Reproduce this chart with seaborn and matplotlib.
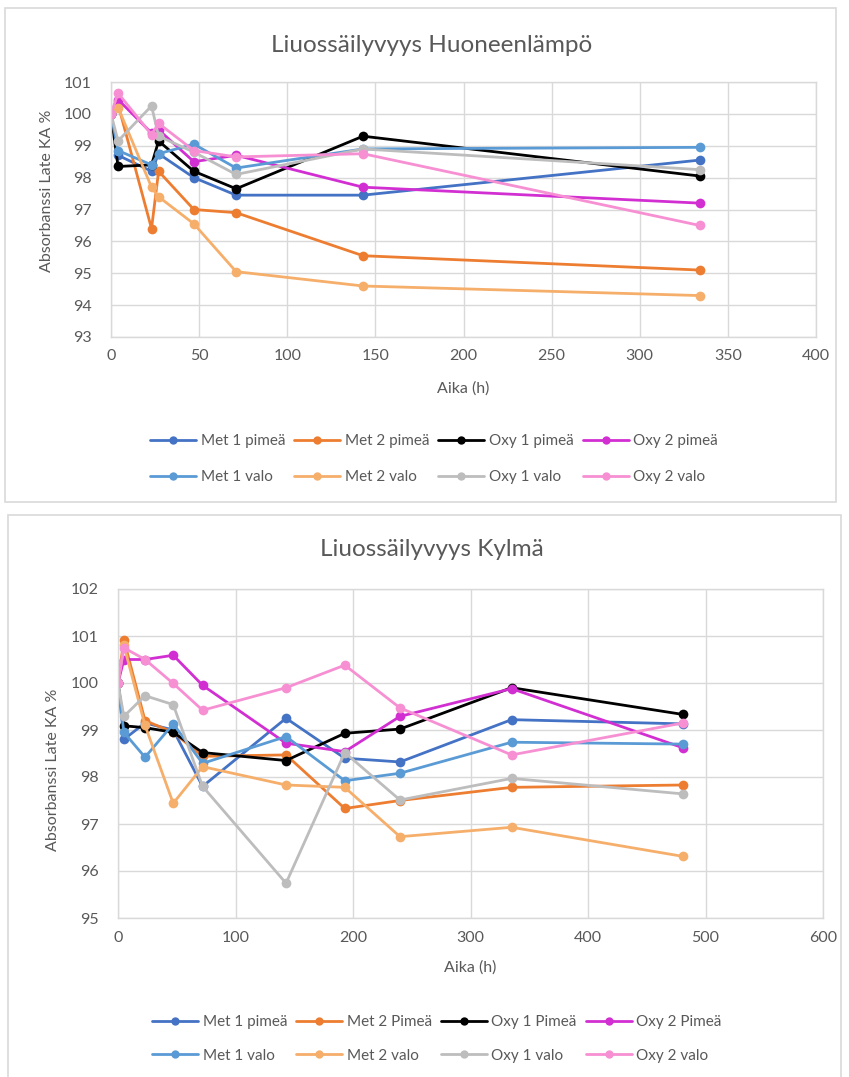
"""Liuossäilyvyys - kaksi kuvaajaa (huoneenlämpö ja kylmä)."""
import pandas as pd
import matplotlib.pyplot as plt
import matplotlib.patches as mpatches
from matplotlib.lines import Line2D
import seaborn as sns

# ── data: huoneenlämpö ───────────────────────────────────────────────────────
AIKA_HUONE = [0, 4, 23, 27, 47, 71, 143, 334]
SARJAT_HUONE = ["Met 1 pimeä", "Met 2 pimeä", "Oxy 1 pimeä", "Oxy 2 pimeä",
                "Met 1 valo", "Met 2 valo", "Oxy 1 valo", "Oxy 2 valo"]
huone_met1_pimea = [100, 98.7, 98.2, 98.75, 98.0, 97.45, 97.45, 98.55]
huone_met2_pimea = [100, 100.3, 96.4, 98.2, 97.0, 96.9, 95.55, 95.1]
huone_oxy1_pimea = [100, 98.35, 98.4, 99.15, 98.2, 97.65, 99.3, 98.05]
huone_oxy2_pimea = [100, 100.45, 99.4, 99.5, 98.5, 98.7, 97.7, 97.2]
huone_met1_valo = [100, 98.85, 98.4, 98.75, 99.05, 98.3, 98.9, 98.95]
huone_met2_valo = [100, 100.2, 97.7, 97.4, 96.55, 95.05, 94.6, 94.3]
huone_oxy1_valo = [100, 99.15, 100.25, 99.3, 98.8, 98.1, 98.9, 98.25]
huone_oxy2_valo = [100, 100.65, 99.35, 99.7, 98.85, 98.65, 98.75, 96.5]

# ── data: kylmä ──────────────────────────────────────────────────────────────
AIKA_KYLMA = [0, 5, 23, 47, 72, 143, 193, 240, 335, 481]
SARJAT_KYLMA = ["Met 1 pimeä", "Met 2 Pimeä", "Oxy 1 Pimeä", "Oxy 2 Pimeä",
                "Met 1 valo", "Met 2 valo", "Oxy 1 valo", "Oxy 2 valo"]
kylma_met1_pimea = [100, 98.8, 99.15, 99.0, 97.8, 99.25, 98.4, 98.32, 99.22, 99.13]
kylma_met2_pimea = [100, 100.92, 99.2, 98.95, 98.44, 98.47, 97.33, 97.5, 97.78, 97.83]
kylma_oxy1_pimea = [100, 99.09, 99.05, 98.95, 98.52, 98.35, 98.93, 99.02, 99.9, 99.33]
kylma_oxy2_pimea = [100, 100.5, 100.5, 100.59, 99.95, 98.72, 98.54, 99.29, 99.88, 98.62]
kylma_met1_valo = [100, 98.95, 98.42, 99.13, 98.29, 98.86, 97.92, 98.08, 98.74, 98.7]
kylma_met2_valo = [100, 100.8, 99.1, 97.44, 98.22, 97.83, 97.78, 96.73, 96.93, 96.31]
kylma_oxy1_valo = [100, 99.29, 99.73, 99.54, 97.8, 95.74, 98.52, 97.51, 97.97, 97.64]
kylma_oxy2_valo = [100, 100.75, 100.5, 99.99, 99.42, 99.9, 100.38, 99.47, 98.47, 99.15]

VARIT = ["#4472C4", "#ED7D31", "#000000", "#D22FD2",
         "#5B9BD5", "#F6AE6B", "#BDBDBD", "#F78FD3"]
HARMAA = "#595959"
GRID = "#D9D9D9"

W, H = 849, 1077

sns.set_theme(style="white")
plt.rcParams["font.family"] = ["Lato", "DejaVu Sans"]

fig = plt.figure(figsize=(W / 100, H / 100), dpi=100)


def fx(px):
    return px / W


def fy(py):
    return 1 - py / H


def pitka(aika, sarjat, arvot):
    rivit = []
    for nimi, vals in zip(sarjat, arvot):
        for t, v in zip(aika, vals):
            rivit.append({"Aika": t, "Arvo": v, "Sarja": nimi})
    return pd.DataFrame(rivit)


def kuvaaja(box, axpx, aika, sarjat, arvot, xmax, xstep, ylim, otsikko,
            otsikko_y, ylab_xy, xlab_y, leg_xy, ypad, legvali):
    # kehys
    x0, y0, x1, y1 = box
    fig.patches.append(mpatches.Rectangle((fx(x0), fy(y1)), fx(x1) - fx(x0), fy(y0) - fy(y1),
                                          transform=fig.transFigure, fill=False,
                                          edgecolor=GRID, linewidth=1.2))
    l, t, r, b = axpx
    ax = fig.add_axes([fx(l), fy(b), fx(r) - fx(l), fy(t) - fy(b)])
    df = pitka(aika, sarjat, arvot)
    sns.lineplot(data=df, x="Aika", y="Arvo", hue="Sarja", hue_order=sarjat,
                 palette=VARIT, marker="o", markersize=7, markeredgewidth=0,
                 linewidth=2, sort=False, legend=False, ax=ax)
    ax.set_xlim(0, xmax)
    ax.set_ylim(*ylim)
    ax.set_xticks(range(0, xmax + 1, xstep))
    ax.set_yticks(range(ylim[0], ylim[1] + 1))
    ax.grid(True, color=GRID, linewidth=1)
    ax.set_axisbelow(True)
    for s in ax.spines.values():
        s.set_color(GRID)
        s.set_linewidth(1)
    ax.tick_params(axis="both", length=0, labelsize=11.5, labelcolor=HARMAA)
    ax.tick_params(axis="x", pad=9)
    ax.tick_params(axis="y", pad=ypad)
    ax.set_xlabel("")
    ax.set_ylabel("")
    fig.text(fx(432), fy(otsikko_y), otsikko, ha="center", va="center",
             fontsize=17.5, color=HARMAA)
    fig.text(fx(ylab_xy[0]), fy(ylab_xy[1]), "Absorbanssi Late KA %", rotation=90,
             ha="center", va="center", fontsize=11.5, color=HARMAA)
    fig.text(fx((l + r) / 2), fy(xlab_y), "Aika (h)", ha="center", va="center",
             fontsize=11.5, color=HARMAA)

    # legenda: Excel-järjestys riveittäin, matplotlib täyttää sarakkeittain
    kahvat = [Line2D([], [], color=c, marker="o", markersize=6, markeredgewidth=0,
                     linewidth=2) for c in VARIT]
    jarj = [0, 4, 1, 5, 2, 6, 3, 7]
    leg = fig.legend([kahvat[i] for i in jarj], [sarjat[i] for i in jarj],
                     loc="center", bbox_to_anchor=(fx(leg_xy[0]), fy(leg_xy[1])),
                     ncol=4, frameon=False, fontsize=11, handlelength=3,
                     handletextpad=0.3, columnspacing=0.6, labelspacing=legvali)
    for txt in leg.get_texts():
        txt.set_color(HARMAA)
    return ax


# ── 1. Huoneenlämpö ──────────────────────────────────────────────────────────
kuvaaja(box=(5, 8, 836, 502), axpx=(111, 82, 816, 337),
        aika=AIKA_HUONE, sarjat=SARJAT_HUONE,
        arvot=[huone_met1_pimea, huone_met2_pimea, huone_oxy1_pimea, huone_oxy2_pimea,
               huone_met1_valo, huone_met2_valo, huone_oxy1_valo, huone_oxy2_valo],
        xmax=400, xstep=50, ylim=(93, 101), otsikko="Liuossäilyvyys Huoneenlämpö",
        otsikko_y=45, ylab_xy=(47, 191), xlab_y=389, leg_xy=(434, 459), ypad=14,
        legvali=1.45)

# ── 2. Kylmä ─────────────────────────────────────────────────────────────────
kuvaaja(box=(8, 515, 841, 1090), axpx=(118, 589, 823, 918),
        aika=AIKA_KYLMA, sarjat=SARJAT_KYLMA,
        arvot=[kylma_met1_pimea, kylma_met2_pimea, kylma_oxy1_pimea, kylma_oxy2_pimea,
               kylma_met1_valo, kylma_met2_valo, kylma_oxy1_valo, kylma_oxy2_valo],
        xmax=600, xstep=100, ylim=(95, 102), otsikko="Liuossäilyvyys Kylmä",
        otsikko_y=550, ylab_xy=(53, 770), xlab_y=968, leg_xy=(437, 1039), ypad=14,
        legvali=1.25)

plt.savefig("out.png", dpi=100)
